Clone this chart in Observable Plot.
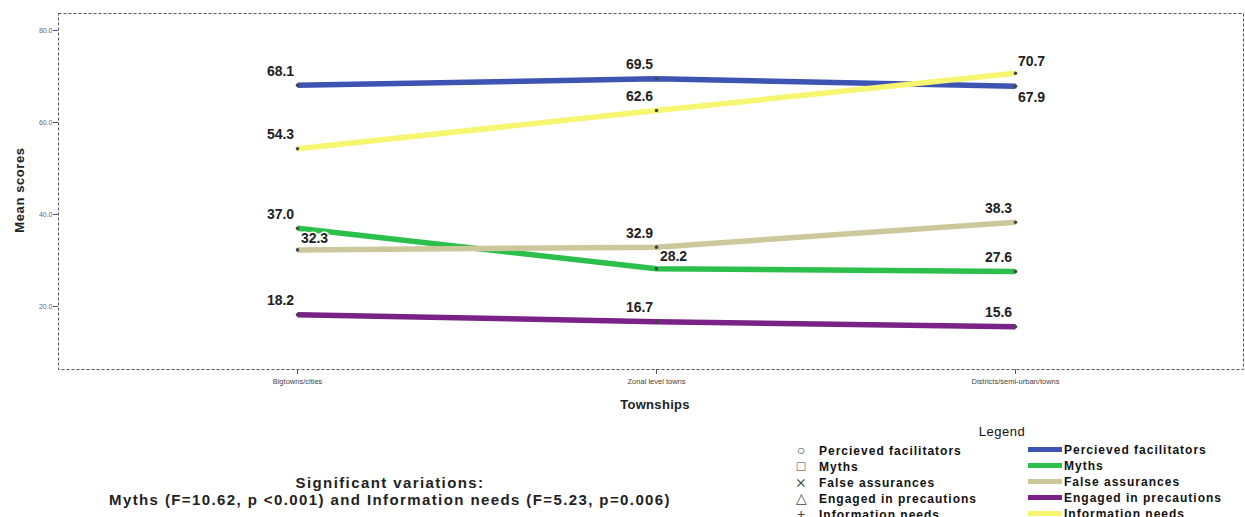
<!DOCTYPE html>
<html><head><meta charset="utf-8">
<script src="https://cdn.jsdelivr.net/npm/d3@7"></script>
<script src="https://cdn.jsdelivr.net/npm/@observablehq/plot@0.6"></script>
<style>
body{margin:0;background:#fff;font-family:"Liberation Sans",Arial,sans-serif;}
#wrap{position:relative;width:1245px;height:517px;overflow:hidden;background:#fff;}
#chart svg{display:block;}
.ytitle{position:absolute;left:19px;top:190px;transform:translate(-50%,-50%) rotate(-90deg);font-weight:bold;font-size:13px;letter-spacing:0.6px;color:#222;white-space:nowrap;}
.xtitle{position:absolute;left:655px;top:404px;transform:translate(-50%,-50%);font-weight:bold;font-size:13px;letter-spacing:0.3px;color:#222;}
.caption{position:absolute;left:90px;width:600px;top:474px;text-align:center;font-weight:bold;font-size:15px;letter-spacing:1.4px;line-height:17px;color:#222;white-space:nowrap;}
.legend{position:absolute;left:789px;top:424px;width:456px;font-size:12px;color:#111;}
.legend .lt{position:absolute;left:183px;top:0;width:60px;text-align:center;font-size:13px;letter-spacing:0.5px;}
.legend .row{position:absolute;height:16px;line-height:16px;font-weight:bold;letter-spacing:1px;white-space:nowrap;}
.legend .sym{display:inline-block;width:18px;margin-left:3px;margin-right:9px;text-align:center;font-weight:normal;letter-spacing:0;color:#444;font-size:14px;}
.legend .sw{display:inline-block;width:34px;height:5px;vertical-align:middle;margin-right:2px;margin-top:-2px;}
</style></head>
<body><div id="wrap"><div id="chart"></div></div>
<script>
const townships = ["Bigtowns/cities", "Zonal level towns", "Districts/semi-urban/towns"];
const seriesNames = ["Percieved facilitators", "Myths", "False assurances", "Engaged in precautions", "Information needs"];
const percievedFacilitators = [68.1, 69.5, 67.9];
const myths = [37.0, 28.2, 27.6];
const falseAssurances = [32.3, 32.9, 38.3];
const engagedInPrecautions = [18.2, 16.7, 15.6];
const informationNeeds = [54.3, 62.6, 70.7];
const yTicks = [20, 40, 60, 80];
const seriesColors = ["#3d54b3", "#2dbf4b", "#cdc89c", "#7a2288", "#f6f670"];
const legendSymbols = ["○", "□", "⨯", "△", "+"];
const captionLines = ["Significant variations:", "Myths (F=10.62, p <0.001) and Information needs (F=5.23, p=0.006)"];

const seriesValues = [percievedFacilitators, myths, falseAssurances, engagedInPrecautions, informationNeeds];
const rows = [];
seriesNames.forEach((s, i) => townships.forEach((t, j) => rows.push({series: s, township: t, value: seriesValues[i][j]})));

// label placement (style, not data)
const special = {
  "False assurances|Bigtowns/cities": [17, -11],
  "Myths|Zonal level towns": [17, -12],
  "Information needs|Districts/semi-urban/towns": [16, -12],
  "Percieved facilitators|Districts/semi-urban/towns": [16, 11]
};
const off = d => special[d.series + "|" + d.township] || [-17, -14];

const labelMarks = rows.map(d => Plot.text([d], {
  x: "township", y: "value", text: v => v.value.toFixed(1),
  dx: off(d)[0], dy: off(d)[1], fontSize: 14, fontWeight: "bold", fill: "#222",
  stroke: "white", strokeWidth: 3
}));

const chart = Plot.plot({
  width: 1245, height: 415,
  marginTop: 13, marginBottom: 46, marginLeft: 58, marginRight: 2,
  style: {fontFamily: "Liberation Sans, Arial, sans-serif", fontSize: "7px", color: "#444", background: "#fff"},
  x: {type: "point", domain: townships, padding: 0.65, align: 0.512, label: null},
  y: {domain: [6.3, 83.7], label: null},
  color: {domain: seriesNames, range: seriesColors},
  marks: [
    Plot.frame({stroke: "#555", strokeDasharray: "3,2"}),
    Plot.axisY({ticks: yTicks, tickFormat: d => d.toFixed(1), tickSize: 5, tickPadding: 1, fontSize: 7, fill: "#666", stroke: "#555"}),
    Plot.axisX({tickSize: 5, tickPadding: 4, fontSize: 7.5, fill: "#444", stroke: "#555"}),
    Plot.line(rows, {x: "township", y: "value", z: "series", stroke: "series", strokeWidth: 5.5, strokeLinecap: "butt"}),
    Plot.dot(rows, {x: "township", y: "value", r: 1.8, fill: "#444", stroke: "none"}),
    ...labelMarks
  ]
});
const wrap = document.getElementById("wrap");
document.getElementById("chart").appendChild(chart);

const addDiv = (cls, text) => { const e = document.createElement("div"); e.className = cls; if (text != null) e.textContent = text; wrap.appendChild(e); return e; };
addDiv("ytitle", "Mean scores");
addDiv("xtitle", "Townships");
const cap = addDiv("caption");
cap.innerHTML = captionLines.join("<br>");

const lg = addDiv("legend");
const lt = document.createElement("div"); lt.className = "lt"; lt.textContent = "Legend"; lg.appendChild(lt);
seriesNames.forEach((s, i) => {
  const top = 18 + i * 16;
  const l = document.createElement("div"); l.className = "row"; l.style.left = "0px"; l.style.top = top + "px";
  l.innerHTML = `<span class="sym">${legendSymbols[i]}</span>${s}`;
  lg.appendChild(l);
  const r = document.createElement("div"); r.className = "row"; r.style.left = "239px"; r.style.top = top + "px";
  r.innerHTML = `<span class="sw" style="background:${seriesColors[i]}"></span>${s}`;
  lg.appendChild(r);
});
</script></body></html>
